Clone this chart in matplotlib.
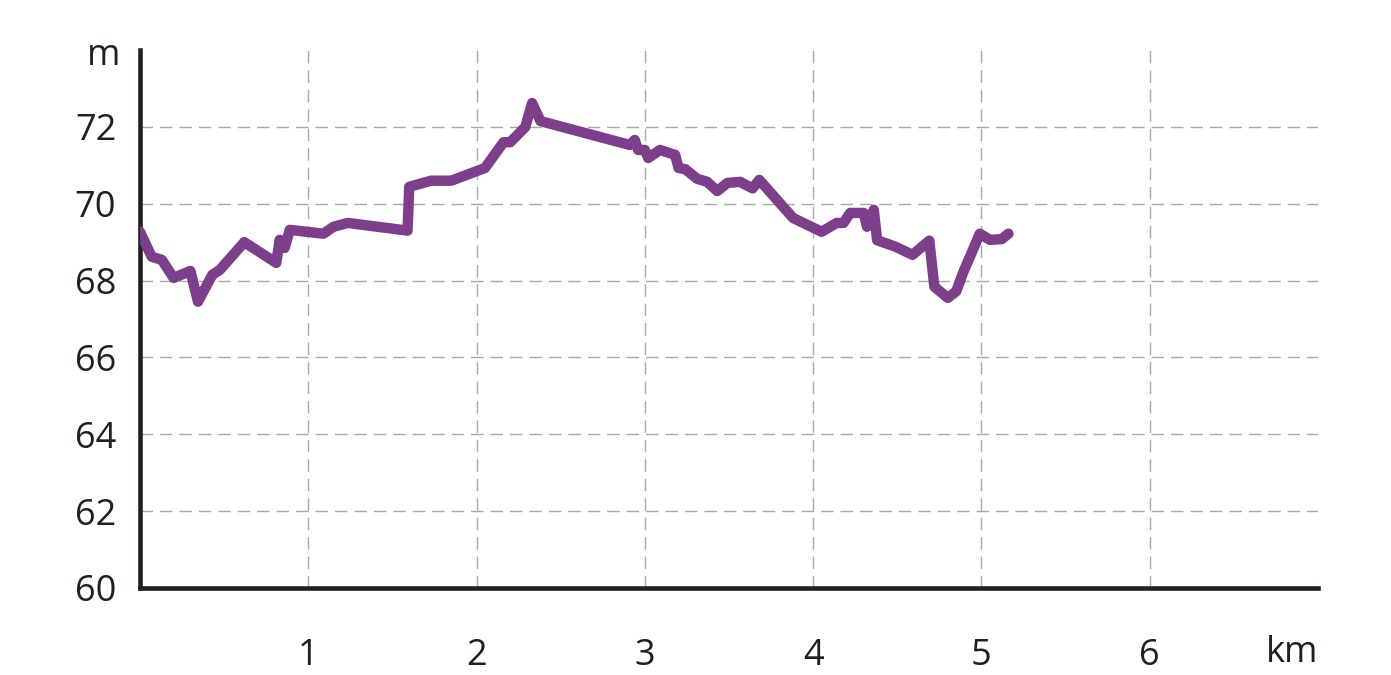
import numpy as np
import matplotlib.pyplot as plt
from matplotlib.transforms import blended_transform_factory

# elevation profile: distance (km) and height (m)
dist_km = [0.00, 0.07, 0.13, 0.20, 0.30, 0.345, 0.43, 0.475, 0.62, 0.81,
           0.83, 0.86, 0.89, 1.09, 1.15, 1.235, 1.59, 1.60, 1.73, 1.85,
           2.05, 2.16, 2.20, 2.29, 2.33, 2.38, 2.91, 2.94, 2.96, 3.00,
           3.02, 3.09, 3.18, 3.20, 3.24, 3.31, 3.37, 3.43, 3.49, 3.565,
           3.64, 3.68, 3.88, 4.05, 4.14, 4.18, 4.22, 4.30, 4.32, 4.36,
           4.38, 4.49, 4.59, 4.69, 4.72, 4.80, 4.85, 4.89, 4.99, 5.05,
           5.12, 5.16]
elev_m = [69.27, 68.62, 68.54, 68.07, 68.25, 67.45, 68.15, 68.28, 69.00, 68.46,
          69.06, 68.85, 69.32, 69.22, 69.40, 69.50, 69.30, 70.44, 70.60, 70.60,
          70.93, 71.60, 71.60, 72.00, 72.62, 72.15, 71.53, 71.66, 71.40, 71.40,
          71.19, 71.40, 71.27, 70.93, 70.90, 70.65, 70.57, 70.33, 70.54, 70.57,
          70.40, 70.62, 69.63, 69.27, 69.50, 69.50, 69.76, 69.76, 69.40, 69.84,
          69.05, 68.88, 68.67, 69.04, 67.84, 67.55, 67.72, 68.20, 69.22, 69.06,
          69.08, 69.22]

x_ticks = [1, 2, 3, 4, 5, 6]
y_ticks = [60, 62, 64, 66, 68, 70, 72]

plt.rcParams['font.family'] = ['Open Sans', 'DejaVu Sans']

fig = plt.figure(figsize=(13.91, 6.75), dpi=100)
ax = fig.add_axes([0.1006, 0.1289, 0.847, 0.797])

ax.plot(dist_km, elev_m, color='#7d3f8c', linewidth=7.5,
        solid_joinstyle='round', solid_capstyle='round', zorder=3)

ax.set_xlim(0, 7)
ax.set_ylim(60, 74)
ax.set_xticks(x_ticks)
ax.set_yticks(y_ticks)
ax.set_xticklabels([str(t) for t in x_ticks])
ax.set_yticklabels([str(t) for t in y_ticks])
ax.tick_params(axis='x', length=0, pad=36, labelsize=26, colors='#231f20')
ax.tick_params(axis='y', length=0, pad=17, labelsize=26, colors='#231f20')

ax.grid(True, color='#a8a8a8', linewidth=1.0, linestyle=(0, (9, 5)))
ax.set_axisbelow(True)

for s in ['top', 'right']:
    ax.spines[s].set_visible(False)
for s in ['left', 'bottom']:
    ax.spines[s].set_linewidth(3.3)
    ax.spines[s].set_color('#231f20')
    ax.spines[s].set_capstyle('projecting')

# unit labels
ax.text(-0.017, 73.85, 'm', ha='right', va='center', fontsize=26, color='#231f20',
        transform=blended_transform_factory(ax.transAxes, ax.transData))
ax.text(1.0, -0.121, 'km', ha='right', va='center', fontsize=26, color='#231f20',
        transform=ax.transAxes)

fig.savefig('out.png', dpi=100)
